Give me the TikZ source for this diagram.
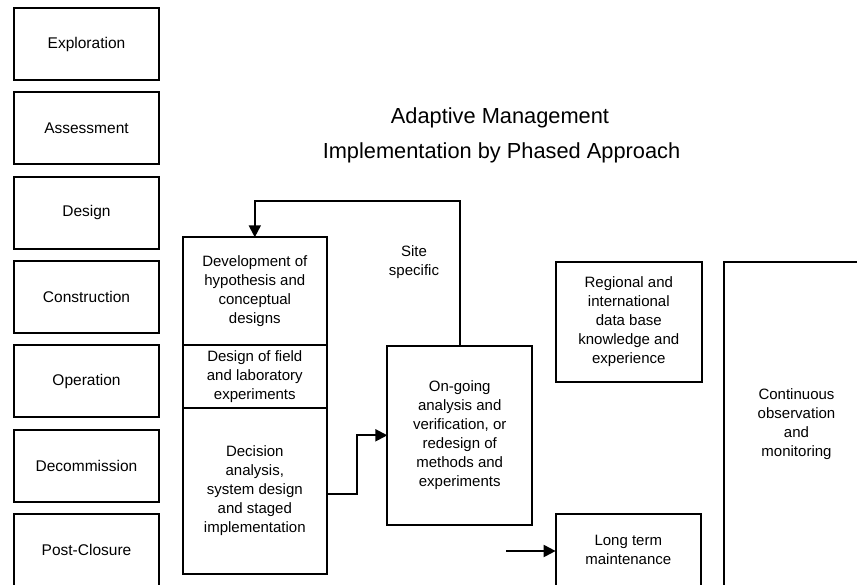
\documentclass[tikz,border=0pt]{standalone}
\usepackage{fontspec}
\setmainfont{Liberation Sans}
\usetikzlibrary{arrows.meta}

\begin{document}
\begin{tikzpicture}[x=1pt,y=-1pt,
  box/.style={draw,line width=2pt,outer sep=0pt,align=center,inner sep=2pt,font=\fontsize{15}{19}\selectfont},
  stage/.style={box,minimum width=145pt,minimum height=72pt,font=\fontsize{15.5}{19}\selectfont},
  link/.style={line width=2pt,-{Triangle[length=12pt,width=12pt]}},
  title/.style={font=\fontsize{21.8}{27}\selectfont,anchor=base}]
\def\pitch{84.3}

\useasboundingbox (0,0) rectangle (857,584);
\clip (0,0) rectangle (857,584);

% Phases of the life cycle
\foreach \stg/\txt [count=\i from 0] in {explore/Exploration,assess/Assessment,design/Design,construct/Construction,operate/Operation,decom/Decommission,closure/Post-Closure}
  \node[stage] (\stg) at (86.5,{44+\pitch*\i}) {\txt};

% Title
\node[title] (head) at (500,123) {Adaptive Management};
\node[title] (subhead) at (501.5,158) {Implementation by Phased Approach};

% Phased approach stack
\node[box,minimum width=144.3pt,minimum height=107.7pt,anchor=north] (dev) at (254.8,237.3) {Development of\\hypothesis and\\conceptual\\designs};
\node[box,minimum width=144.3pt,minimum height=63pt,anchor=north] (field) at (dev.south) {Design of field\\and laboratory\\experiments};
\node[box,minimum width=144.3pt,minimum height=166pt,anchor=north] (decision) at (field.south) {Decision\\analysis,\\system design\\and staged\\implementation};

% Verification and the right-hand boxes
\node[box,minimum width=144.7pt,minimum height=179.3pt] (ongoing) at (459.7,435.3) {On-going\\analysis and\\verification, or\\redesign of\\methods and\\experiments};
\node[align=center,font=\fontsize{15}{19}\selectfont] (site) at (414,262.5) {Site\\specific};
\node[box,minimum width=146pt,minimum height=120pt] (regional) at (628.8,321.7) {Regional and\\international\\data base\\knowledge and\\experience};
\node[box,minimum width=145pt,minimum height=324pt] (monitor) at (796.5,423.7) {Continuous\\observation\\and\\monitoring};
\node[box,minimum width=145.3pt,minimum height=72pt] (longterm) at (628.3,550) {Long term\\maintenance};
\coordinate (feed) at (506,551);

% Connectors
\draw[link] (ongoing.north) -- ++(0,-144.7) -| (dev.north);
\draw[link] ([yshift=-2.5pt]decision.east) -- ++(29.7,0) |- (ongoing.west);
\draw[link] (feed) -- (longterm.west |- feed);
\end{tikzpicture}
\end{document}
